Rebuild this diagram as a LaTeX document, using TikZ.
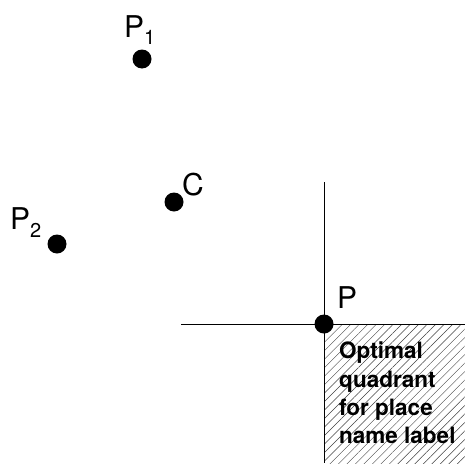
\documentclass[tikz,border=0pt]{standalone}
\usepackage{fontspec}
\setmainfont{TeX Gyre Heros}
\usetikzlibrary{patterns.meta}
\begin{document}
\begin{tikzpicture}[x=1pt,y=-1pt,
  dot/.style={circle,fill=black,inner sep=0pt,minimum size=19pt},
  lbl/.style={anchor=base west,inner sep=0pt,font=\fontsize{30}{30}\selectfont},
  axis/.style={line width=0.8pt}]
\useasboundingbox (0,0) rectangle (465,463);
\fill[pattern={Lines[angle=45,distance=6pt,line width=0.45pt]},pattern color=black!75] (324,324) rectangle (465,463);
\coordinate (vt) at (324,182);
\coordinate (vb) at (324,463);
\coordinate (hl) at (181,324);
\coordinate (hr) at (465,324);
\draw[axis] (vt) -- (vb);
\draw[axis] (hl) -- (hr);
\node[dot] (p1) at (142,59) {};
\node[dot] (c) at (174,202) {};
\node[dot] (p2) at (57,244) {};
\node[dot] (p) at (324,324) {};
\node[lbl] (p1l) at (124,37) {P\raisebox{-7pt}{\fontsize{20}{20}\selectfont 1}};
\node[lbl] (cl) at (182,195) {C};
\node[lbl] (p2l) at (10,229) {P\raisebox{-8pt}{\fontsize{20}{20}\selectfont 2}};
\node[lbl] (pl) at (337,308) {P};
\node[anchor=north west,inner sep=0pt,align=left,font=\bfseries\fontsize{22.5}{28.3}\selectfont] (txt) at (339,342) {Optimal\\quadrant\\for place\\name label};
\end{tikzpicture}
\end{document}
